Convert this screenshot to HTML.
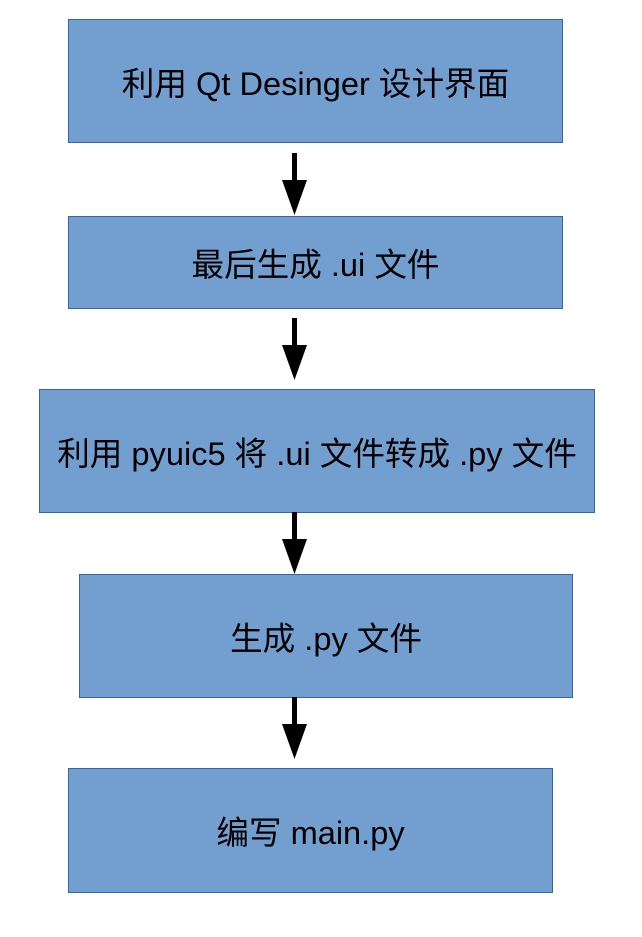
<!DOCTYPE html>
<html><head><meta charset="utf-8"><style>
body{margin:0;width:642px;height:937px;background:#fff;position:relative;overflow:hidden;font-family:"Liberation Sans","Noto Sans CJK SC",sans-serif}
.b{position:absolute;background:#729fcf;border:1px solid #3465a4;box-sizing:border-box;display:flex;align-items:center;justify-content:center;font-size:32.6px;color:#000;white-space:nowrap}
svg{position:absolute;left:0;top:0}
</style></head><body>
<div class="b" style="left:68px;top:19px;width:495px;height:124px">利用 Qt Desinger 设计界面</div>
<div class="b" style="left:68px;top:216px;width:495px;height:93px">最后生成 .ui 文件</div>
<div class="b" style="left:39px;top:389px;width:556px;height:124px">利用 pyuic5 将 .ui 文件转成 .py 文件</div>
<div class="b" style="left:79px;top:574px;width:494px;height:124px">生成 .py 文件</div>
<div class="b" style="left:68px;top:768px;width:485px;height:125px">编写 main.py</div>
<svg width="642" height="937">
<g fill="#000">
<rect x="292" y="153" width="5" height="30"/><polygon points="282,180 307,180 294.5,215"/>
<rect x="292" y="318" width="5" height="30"/><polygon points="282,345 307,345 294.5,380"/>
<rect x="292" y="512" width="5" height="30"/><polygon points="282,539 307,539 294.5,574"/>
<rect x="292" y="697" width="5" height="30"/><polygon points="282,724 307,724 294.5,759"/>
</g></svg>
</body></html>
